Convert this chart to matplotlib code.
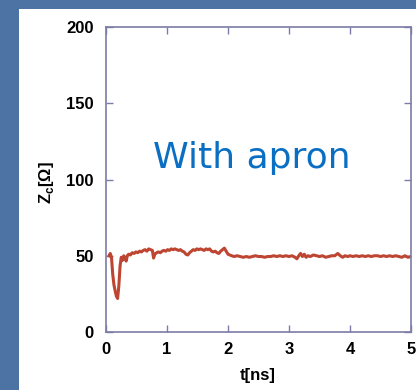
import matplotlib.pyplot as plt
from matplotlib.patches import Rectangle

# impedance vs time
t_ns = [0.05, 0.07, 0.09, 0.11, 0.13, 0.15, 0.17, 0.19, 0.21, 0.23, 0.25, 0.27, 0.29, 0.31, 0.33,
        0.35, 0.37, 0.40, 0.43, 0.46, 0.49, 0.52, 0.55, 0.58, 0.61, 0.64, 0.67, 0.70, 0.73, 0.76,
        0.78, 0.80, 0.83, 0.86, 0.89, 0.92, 0.95, 0.98, 1.01, 1.04, 1.07, 1.10, 1.13, 1.16, 1.19,
        1.22, 1.25, 1.28, 1.31, 1.34, 1.37, 1.40, 1.43, 1.46, 1.49, 1.52, 1.55, 1.58, 1.61, 1.64,
        1.67, 1.70, 1.73, 1.76, 1.79, 1.82, 1.85, 1.88, 1.91, 1.94, 1.97, 2.00, 2.03, 2.06, 2.10,
        2.15, 2.20, 2.25, 2.30, 2.35, 2.40, 2.45, 2.50, 2.55, 2.60, 2.65, 2.70, 2.75, 2.80, 2.85,
        2.90, 2.95, 3.00, 3.05, 3.10, 3.13, 3.16, 3.19, 3.22, 3.25, 3.28, 3.31, 3.35, 3.40, 3.45,
        3.50, 3.55, 3.60, 3.65, 3.70, 3.75, 3.80, 3.84, 3.88, 3.92, 3.96, 4.00, 4.05, 4.10, 4.15,
        4.20, 4.25, 4.30, 4.35, 4.40, 4.45, 4.50, 4.55, 4.60, 4.65, 4.70, 4.75, 4.80, 4.85, 4.90,
        4.95, 5.00]
z_ohm = [50, 51.5, 49, 38, 31, 27, 23.5, 22, 30, 43, 49, 47, 50, 49, 46.5,
         50, 51, 50.5, 52, 51.5, 52.5, 52, 53, 52.5, 53.5, 54, 53, 54.5, 54, 53.5,
         48.5, 51, 52, 52.5, 52, 53, 53.5, 53, 54, 53.5, 54.5, 54, 54.5, 54, 53.5,
         54, 53, 52.5, 51, 50.5, 52, 53, 54, 53.5, 54.5, 54, 54.5, 54, 53.5, 54.5,
         54, 54.5, 53, 52.5, 53, 52, 51.5, 53, 54, 55, 53, 51, 50.5, 50, 49.5,
         50, 49.5, 49, 49.5, 49, 49.5, 50, 49.5, 49.5, 49, 49.5, 49.5, 50, 49.5, 50,
         49.5, 50, 49.5, 50, 49, 48, 50, 51.5, 49.5, 51, 49, 50, 49.5, 50.5, 50,
         49.5, 50, 49, 49.5, 50, 50, 51.5, 50, 49, 50, 49.5, 50, 49.5, 50, 49.5,
         50, 49.5, 50, 49.5, 50, 50, 49.5, 50, 49.5, 50, 49.5, 50, 49.5, 49, 50,
         49, 49.5]

x_ticks = [0, 1, 2, 3, 4, 5]
y_ticks = [0, 50, 100, 150, 200]

bg_blue = '#4d72a4'
spine_col = '#7c7ca6'

fig = plt.figure(figsize=(4.16, 3.9), dpi=100, facecolor=bg_blue)
# white slide panel behind the axes
fig.add_artist(Rectangle((19 / 416, 0), 1, 1 - 9 / 390, transform=fig.transFigure,
                         facecolor='white', edgecolor='none', zorder=-10))

ax = fig.add_axes([106 / 416, 58 / 390, 305 / 416, 305 / 390])
ax.set_zorder(5)
ax.plot(t_ns, z_ohm, color='#bd4531', lw=2.2)

ax.set_xlim(0, 5)
ax.set_ylim(0, 200)
ax.set_xticks(x_ticks)
ax.set_yticks(y_ticks)

for sp in ax.spines.values():
    sp.set_color(spine_col)
    sp.set_linewidth(1.2)

ax.tick_params(direction='in', length=5, width=1, color=spine_col,
               top=True, right=True, labelsize=12, labelcolor='black')
ax.tick_params(axis='y', pad=9)
ax.tick_params(axis='x', pad=7)
for lab in ax.get_xticklabels() + ax.get_yticklabels():
    lab.set_fontweight('bold')
    lab.set_family('Liberation Sans')

ax.set_xlabel('t[ns]', fontsize=12, fontweight='bold', family='Liberation Sans')
ax.xaxis.set_label_coords(0.498, -0.118)
ax.set_ylabel(r'Z$_\mathregular{c}$[Ω]', fontsize=12, fontweight='bold', family='Liberation Sans')
ax.yaxis.set_label_coords(-0.165, 0.49)

ax.text(0.479, 0.57, 'With apron', transform=ax.transAxes, ha='center', va='center',
        fontsize=26, color='#0a6fc2', family='DejaVu Sans')

plt.savefig('out.png', dpi=100, facecolor=fig.get_facecolor())
